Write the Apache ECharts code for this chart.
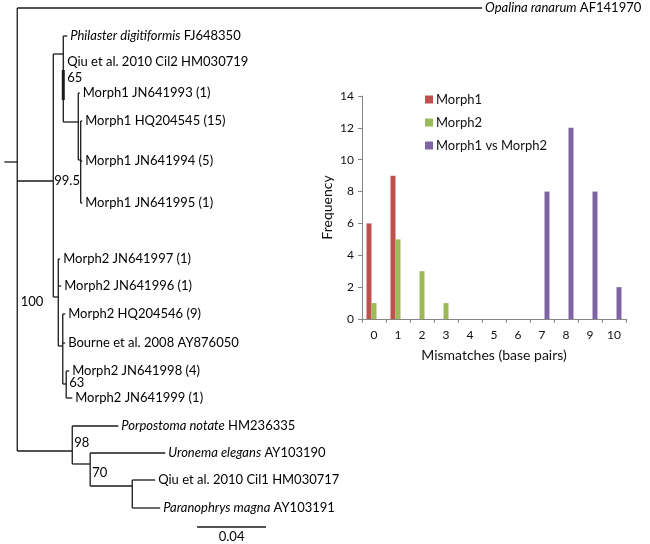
<!DOCTYPE html>
<html><head><meta charset="utf-8">
<script src="https://cdn.jsdelivr.net/npm/echarts@6/dist/echarts.min.js"></script>
<style>html,body{margin:0;padding:0;background:#fff}#c{width:650px;height:544px}</style>
</head><body><div id="c"></div>
<script>
// ---------- Tree data (branch depths in substitutions/site, rows = vertical order units) ----------
const nodeParent = [-1,0,0,2,3,3,3,6,6,8,8,8,2,12,12,12,15,15,15,18,18,0,21,21,23,23,25,25];
const nodeDepth  = [0,0.2696,0.0209,0.0267,0.0290,0.0272,0.0354,0.0362,0.0368,0.0377,0.0377,0.0377,
                    0.0238,0.0249,0.0255,0.0264,0.0278,0.0278,0.0284,0.0301,0.0319,
                    0.0319,0.0586,0.0423,0.0858,0.0667,0.0800,0.0829];
const nodeRow    = [15.4,0,17.3,4.6,2.8,5.4,11.4,8.5,15.2,11.3,15.3,19.5,
                    28.9,25.1,27.8,33.8,30.6,33.5,37.6,36.3,39.0,
                    44.3,41.8,45.6,44.5,47.8,47.2,50.0];
const nodeItalic = ['','Opalina ranarum','','','Philaster digitiformis','','','','','','','',
                    '','','','','','','','','',
                    '','Porpostoma notate','','Uronema elegans','','','Paranophrys magna'];
const nodeLabel  = ['','AF141970','','','FJ648350','Qiu et al. 2010 Cil2 HM030719','','Morph1 JN641993 (1)','',
                    'Morph1 HQ204545 (15)','Morph1 JN641994 (5)','Morph1 JN641995 (1)',
                    '','Morph2 JN641997 (1)','Morph2 JN641996 (1)','','Morph2 HQ204546 (9)','Bourne et al. 2008 AY876050','',
                    'Morph2 JN641998 (4)','Morph2 JN641999 (1)',
                    '','HM236335','','AY103190','','Qiu et al. 2010 Cil1 HM030717','AY103191'];
const nodeSupport = ['','','99.5','65','','','','','','','','','100','','','','','','63','','','98','','70','','','',''];
const rootStemStart = -0.0075;
const boldSpan = [3, 6.2, 9.2];      // node, from row, to row
const scaleBarLength = 0.04;
const scaleBarLabel = '0.04';

// ---------- Histogram data ----------
const mismatchCats = ['0','1','2','3','4','5','6','7','8','9','10'];
const morph1Freq = [6,9,0,0,0,0,0,0,0,0,0];
const morph2Freq = [1,5,3,1,0,0,0,0,0,0,0];
const betweenFreq = [0,0,0,0,0,0,0,8,12,8,2];
const freqTicks = [0,14,2];

// ---------- Build tree segments ----------
const segs = [];
segs.push([rootStemStart, nodeRow[0], nodeDepth[0], nodeRow[0], 1.3]);
for (let i = 0; i < nodeParent.length; i++) {
  const p = nodeParent[i];
  if (p >= 0 && nodeDepth[i] - nodeDepth[p] > 1e-6) segs.push([nodeDepth[p], nodeRow[i], nodeDepth[i], nodeRow[i], 1.3]);
  const kids = [];
  nodeParent.forEach((q, j) => { if (q === i) kids.push(nodeRow[j]); });
  if (kids.length) segs.push([nodeDepth[i], Math.min(...kids), nodeDepth[i], Math.max(...kids), 1.3]);
}
segs.push([nodeDepth[boldSpan[0]], boldSpan[1], nodeDepth[boldSpan[0]], boldSpan[2], 3]);
const sbStart = 0.1043, sbRow = 51.9;
segs.push([sbStart, sbRow, sbStart + scaleBarLength, sbRow, 1.3]);

const tipData = [];
nodeLabel.forEach((t, i) => { if (t || nodeItalic[i]) tipData.push([nodeDepth[i], nodeRow[i], i]); });
const supData = [];
nodeSupport.forEach((t, i) => { if (t) supData.push([nodeDepth[i], nodeRow[i], i]); });
const supOffset = {2:[1,0,'left'],3:[4,24,'left'],12:[-15,5,'right'],18:[3,-1,'left'],21:[2,-8,'left'],23:[2,9,'left']};

const FONT = 'Lato';
const FS = 13;
const chart = echarts.init(document.getElementById('c'), null, {renderer:'canvas'});
chart.setOption({
  animation: false,
  backgroundColor: '#fff',
  textStyle: {fontFamily: FONT},
  grid: [
    {left: 0, top: 8, width: 638, height: 520},
    {left: 362, top: 96, width: 264, height: 223}
  ],
  xAxis: [
    {gridIndex: 0, type: 'value', min: -0.01, max: 0.36, show: false},
    {gridIndex: 1, type: 'category', data: mismatchCats,
     axisLine: {lineStyle: {color: '#868686', width: 1}},
     axisTick: {show: true, length: 4, lineStyle: {color: '#868686'}},
     axisLabel: {color: '#111', fontSize: 12, fontFamily: FONT, margin: 10, interval: 0},
     name: 'Mismatches (base pairs)', nameLocation: 'middle', nameGap: 29,
     nameTextStyle: {color: '#111', fontSize: 14, fontFamily: FONT}}
  ],
  yAxis: [
    {gridIndex: 0, type: 'value', min: 0, max: 52, inverse: true, show: false},
    {gridIndex: 1, type: 'value', min: freqTicks[0], max: freqTicks[1], interval: freqTicks[2],
     axisLine: {show: true, lineStyle: {color: '#868686', width: 1}},
     axisTick: {show: true, length: 4, lineStyle: {color: '#868686'}},
     splitLine: {show: false},
     axisLabel: {color: '#111', fontSize: 12, fontFamily: FONT, margin: 8},
     name: 'Frequency', nameLocation: 'middle', nameGap: 28, nameRotate: 90,
     nameTextStyle: {color: '#111', fontSize: 14, fontFamily: FONT}}
  ],
  legend: {
    data: ['Morph1', 'Morph2', 'Morph1 vs Morph2'],
    orient: 'vertical', left: 420, top: 88, itemWidth: 8, itemHeight: 8, itemGap: 10, icon: 'rect',
    textStyle: {fontSize: FS, fontFamily: FONT, color: '#111', padding: [0,0,0,-2]}
  },
  series: [
    {type: 'custom', xAxisIndex: 0, yAxisIndex: 0, silent: true, clip: false,
     data: segs,
     renderItem: function (params, api) {
       const a = api.coord([api.value(0), api.value(1)]);
       const b = api.coord([api.value(2), api.value(3)]);
       return {type: 'line', shape: {x1: a[0], y1: a[1], x2: b[0], y2: b[1]},
               style: {stroke: '#1a1a1a', lineWidth: api.value(4)}};
     }},
    {type: 'custom', xAxisIndex: 0, yAxisIndex: 0, silent: true, clip: false,
     data: tipData,
     renderItem: function (params, api) {
       const p = api.coord([api.value(0), api.value(1)]);
       const i = api.value(2);
       const txt = (nodeItalic[i] ? '{i|' + nodeItalic[i] + '} ' : '') + nodeLabel[i];
       return {type: 'text', x: p[0] + 3, y: p[1],
               style: {text: txt, fill: '#000', fontSize: FS, fontFamily: FONT,
                       align: 'left', verticalAlign: 'middle',
                       rich: {i: {fontStyle: 'italic', fontSize: FS, fontFamily: FONT, fill: '#000'}}}};
     }},
    {type: 'custom', xAxisIndex: 0, yAxisIndex: 0, silent: true, clip: false,
     data: supData,
     renderItem: function (params, api) {
       const p = api.coord([api.value(0), api.value(1)]);
       const i = api.value(2);
       const o = supOffset[i] || [2,0,'left'];
       return {type: 'text', x: p[0] + o[0], y: p[1] + o[1],
               style: {text: nodeSupport[i], fill: '#000', fontSize: FS, fontFamily: FONT,
                       align: o[2], verticalAlign: 'middle'}};
     }},
    {type: 'custom', xAxisIndex: 0, yAxisIndex: 0, silent: true, clip: false,
     data: [[sbStart + scaleBarLength / 2, sbRow]],
     renderItem: function (params, api) {
       const p = api.coord([api.value(0), api.value(1)]);
       return {type: 'text', x: p[0], y: p[1] + 3,
               style: {text: scaleBarLabel, fill: '#000', fontSize: FS, fontFamily: FONT,
                       align: 'center', verticalAlign: 'top'}};
     }},
    {name: 'Morph1', type: 'bar', xAxisIndex: 1, yAxisIndex: 1, data: morph1Freq,
     barWidth: 5, barGap: '0%', itemStyle: {color: '#C0504D'}},
    {name: 'Morph2', type: 'bar', xAxisIndex: 1, yAxisIndex: 1, data: morph2Freq,
     barWidth: 5, barGap: '0%', itemStyle: {color: '#9BBB59'}},
    {name: 'Morph1 vs Morph2', type: 'bar', xAxisIndex: 1, yAxisIndex: 1, data: betweenFreq,
     barWidth: 5, barGap: '0%', itemStyle: {color: '#8064A2'}}
  ]
});
</script></body></html>
